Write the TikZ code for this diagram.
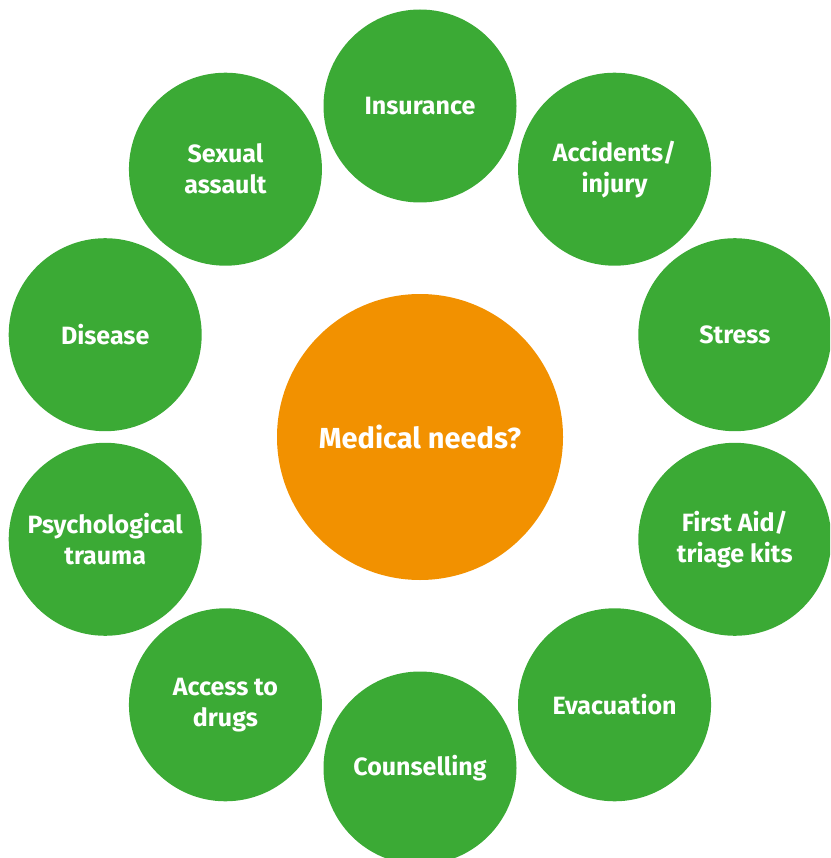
\documentclass[tikz,border=0pt]{standalone}
\usepackage{fontspec}
\setmainfont{Fira Sans}[BoldFont={* Bold}]
\usepackage{xcolor}
\usetikzlibrary{calc}
\definecolor{needgreen}{HTML}{3BAA35}
\definecolor{needorange}{HTML}{F29100}

\begin{document}
\begin{tikzpicture}[
	x=1pt, y=1pt,
	need/.style={
  		circle,
  		fill=needgreen,
  		text=white,
  		inner sep=0pt,
  		outer sep=0pt,
  		minimum size=193pt,
  		align=center,
  		font=\fontsize{25}{31}\selectfont\bfseries
  	},
	hub/.style={
  		need,
  		fill=needorange,
  		minimum size=286pt,
  		font=\fontsize{29}{35}\selectfont\bfseries
  	}]

	\useasboundingbox (0,0) rectangle (830,-858);
	\clip (0,0) rectangle (830,-858);

  	\coordinate (centre) at (420,-437);

	\node[hub] (medical) at (centre) {Medical needs?};

	\node[need] (insurance)  at ($(centre)+(90:331)$)  {Insurance};
	\node[need] (accidents)  at ($(centre)+(54:331)$)  {Accidents/\\injury};
	\node[need] (stress)     at ($(centre)+(18:331)$)  {Stress};
	\node[need] (firstaid)   at ($(centre)+(-18:331)$) {First Aid/\\triage kits};
	\node[need] (evacuation) at ($(centre)+(-54:331)$) {Evacuation};
	\node[need] (counsel)    at ($(centre)+(-90:331)$) {Counselling};
	\node[need] (drugs)      at ($(centre)+(-126:331)$) {Access to\\drugs};
	\node[need] (trauma)     at ($(centre)+(-162:331)$) {Psychological\\trauma};
	\node[need] (disease)    at ($(centre)+(162:331)$) {Disease};
	\node[need] (assault)    at ($(centre)+(126:331)$) {Sexual\\assault};
\end{tikzpicture}
\end{document}
